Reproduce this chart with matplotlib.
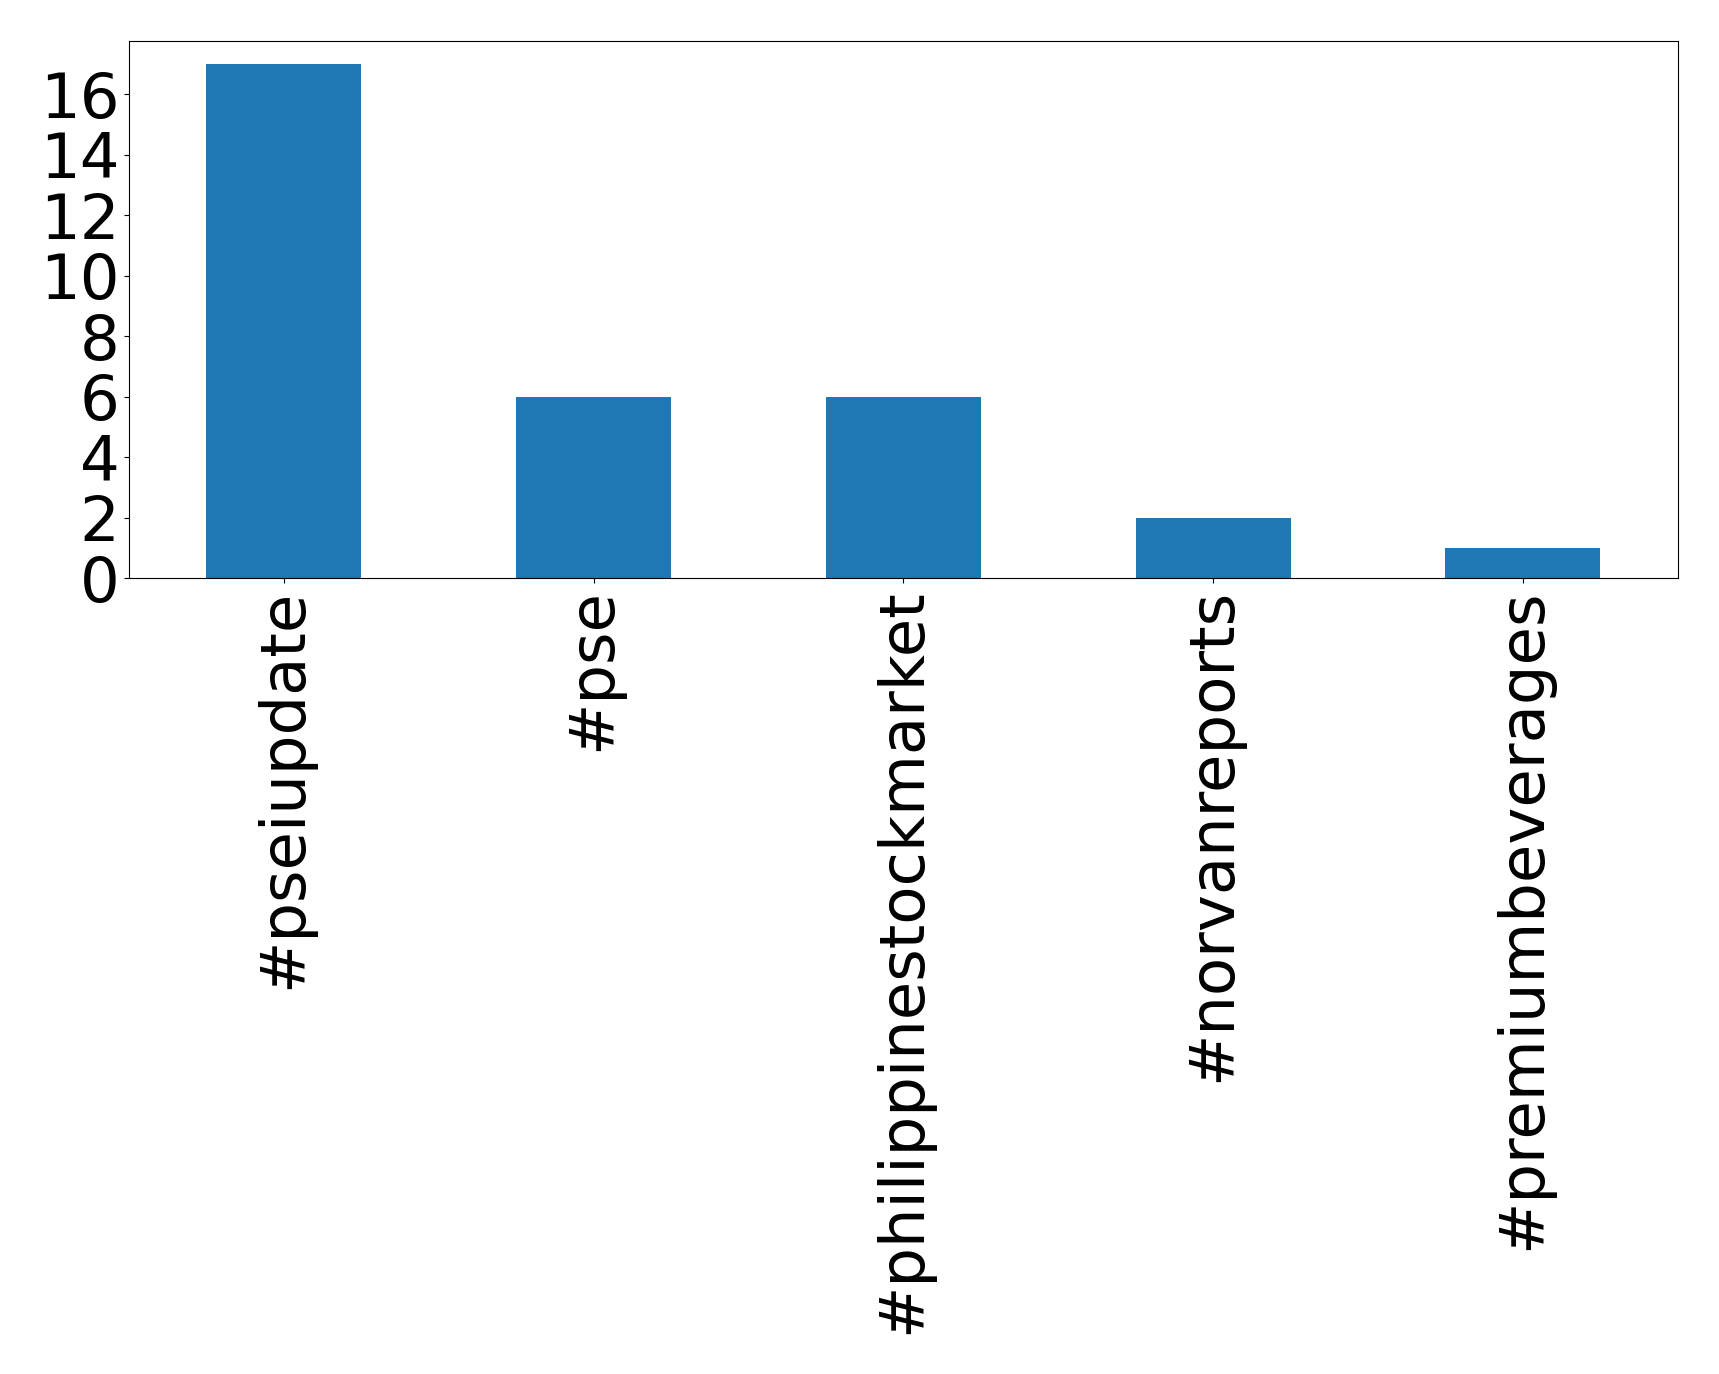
import pandas as pd
import matplotlib
matplotlib.use("Agg")
from matplotlib import pyplot as plt

# hashtag counts
hashtags = ['#pseiupdate', '#pse', '#philippinestockmarket', '#norvanreports', '#premiumbeverages']
counts = [17, 6, 6, 2, 1]

s = pd.Series(counts, index=hashtags)

fig = plt.figure(figsize=(17.19, 13.74), dpi=100)
ax = fig.add_axes([0.075, 0.579, 0.901, 0.391])
s.plot(kind='bar', ax=ax, color='#1f77b4', fontsize=45)
ax.set_yticks(range(0, 17, 2))
ax.set_ylim(0, 17.75)

fig.savefig('out.png', dpi=100)
